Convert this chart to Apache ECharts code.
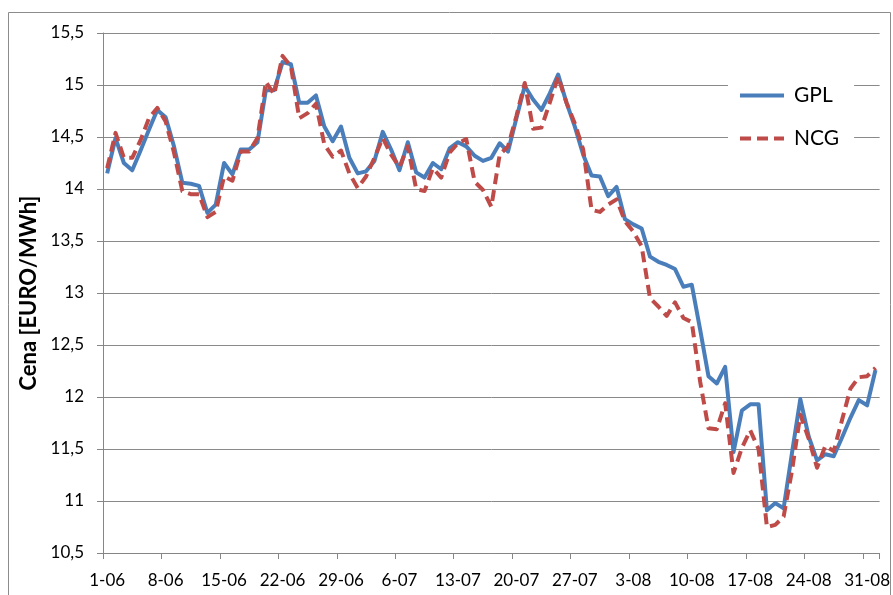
<!DOCTYPE html>
<html>
<head>
<meta charset="utf-8">
<script src="https://cdn.jsdelivr.net/npm/echarts@6/dist/echarts.min.js"></script>
<style>
html,body{margin:0;padding:0;background:#fff;}
#chart{width:893px;height:595px;}
</style>
</head>
<body>
<div id="chart"></div>
<script>
// Daily categories 1-06 ... 1-09
var categories = [
 '1-06','2-06','3-06','4-06','5-06','6-06','7-06','8-06','9-06','10-06','11-06','12-06','13-06','14-06','15-06',
 '16-06','17-06','18-06','19-06','20-06','21-06','22-06','23-06','24-06','25-06','26-06','27-06','28-06','29-06','30-06',
 '1-07','2-07','3-07','4-07','5-07','6-07','7-07','8-07','9-07','10-07','11-07','12-07','13-07','14-07','15-07',
 '16-07','17-07','18-07','19-07','20-07','21-07','22-07','23-07','24-07','25-07','26-07','27-07','28-07','29-07','30-07','31-07',
 '1-08','2-08','3-08','4-08','5-08','6-08','7-08','8-08','9-08','10-08','11-08','12-08','13-08','14-08','15-08',
 '16-08','17-08','18-08','19-08','20-08','21-08','22-08','23-08','24-08','25-08','26-08','27-08','28-08','29-08','30-08','31-08',
 '1-09'
];

var gpl = [
 14.15,14.49,14.25,14.18,14.37,14.57,14.76,14.69,14.41,14.06,
 14.05,14.03,13.77,13.85,14.25,14.14,14.38,14.38,14.45,14.95,
 14.95,15.22,15.20,14.83,14.83,14.90,14.60,14.46,14.60,14.30,
 14.15,14.17,14.27,14.55,14.38,14.18,14.45,14.16,14.11,14.25,
 14.19,14.39,14.45,14.41,14.32,14.27,14.30,14.44,14.36,14.68,
 14.99,14.86,14.76,14.92,15.10,14.83,14.60,14.33,14.13,14.12,
 13.93,14.02,13.71,13.66,13.62,13.35,13.30,13.27,13.23,13.06,
 13.08,12.65,12.20,12.13,12.29,11.47,11.87,11.93,11.93,10.91,
 10.98,10.93,11.46,11.98,11.62,11.39,11.45,11.43,11.61,11.80,
 11.97,11.92,12.26
];

var ncg = [
 14.20,14.54,14.30,14.30,14.47,14.68,14.78,14.65,14.35,13.98,
 13.95,13.95,13.73,13.78,14.12,14.08,14.36,14.36,14.49,15.03,
 14.91,15.28,15.18,14.68,14.73,14.82,14.43,14.31,14.37,14.15,
 14.01,14.12,14.30,14.49,14.33,14.21,14.41,14.00,13.98,14.20,
 14.11,14.35,14.44,14.48,14.07,13.99,13.83,14.33,14.41,14.70,
 15.02,14.58,14.59,14.83,15.08,14.83,14.63,14.38,13.80,13.78,
 13.85,13.90,13.69,13.59,13.45,12.95,12.87,12.78,12.91,12.76,
 12.72,12.15,11.70,11.69,11.94,11.27,11.51,11.68,11.50,10.75,
 10.77,10.85,11.29,11.83,11.60,11.32,11.53,11.48,11.78,12.08,
 12.19,12.20,12.28
];

var seriesNames = ['GPL','NCG'];
var yAxisTitle = 'Cena [EURO/MWh]';

var FONT = 'Lato, "Open Sans", sans-serif';
var chart = echarts.init(document.getElementById('chart'), null, {renderer:'canvas'});
chart.setOption({
  animation: false,
  backgroundColor: '#fff',
  graphic: [{
    type: 'rect', z: -10, silent: true,
    shape: {x: 8.5, y: 12.5, width: 882, height: 600},
    style: {fill: 'none', stroke: '#8c8c8c', lineWidth: 1}
  }],
  grid: {left: 103, right: 12, top: 33, bottom: 42, containLabel: false},
  legend: {
    orient: 'vertical',
    left: 728, top: 73,
    padding: [12, 15, 12, 10],
    backgroundColor: '#fff',
    itemWidth: 44, itemHeight: 14, itemGap: 22,
    itemStyle: {opacity: 0},
    lineStyle: {width: 4},
    textStyle: {fontFamily: FONT, fontSize: 21, color: '#000', padding: [0,0,0,5]},
    data: seriesNames
  },
  xAxis: {
    type: 'category',
    data: categories,
    boundaryGap: true,
    axisLine: {lineStyle: {color: '#868686', width: 1}},
    axisTick: {show: true, interval: 6, length: 6, lineStyle: {color: '#868686'}},
    axisLabel: {interval: 6, color: '#000', fontFamily: FONT, fontSize: 17, margin: 19},
    splitLine: {show: false}
  },
  yAxis: {
    type: 'value',
    min: 10.5, max: 15.5, interval: 0.5,
    name: yAxisTitle,
    nameLocation: 'middle',
    nameGap: 62,
    nameTextStyle: {fontFamily: FONT, fontSize: 22, fontWeight: 'bold', color: '#000'},
    axisLine: {show: true, lineStyle: {color: '#868686', width: 1}},
    axisTick: {show: true, length: 6, lineStyle: {color: '#868686'}},
    axisLabel: {
      color: '#000', fontFamily: FONT, fontSize: 17, margin: 19,
      formatter: function (v) { return String(v).replace('.', ','); }
    },
    splitLine: {show: true, lineStyle: {color: '#8a8a8a', width: 1}}
  },
  series: [
    {
      name: seriesNames[0], type: 'line', data: gpl,
      symbol: 'none', showSymbol: false,
      lineStyle: {color: '#4a7ebb', width: 4, join: 'round'},
      itemStyle: {color: '#4a7ebb'}, z: 3
    },
    {
      name: seriesNames[1], type: 'line', data: ncg,
      symbol: 'none', showSymbol: false,
      lineStyle: {color: '#be4b48', width: 4, type: [11, 6], join: 'round'},
      itemStyle: {color: '#be4b48'}, z: 4
    }
  ]
});
</script>
</body>
</html>
